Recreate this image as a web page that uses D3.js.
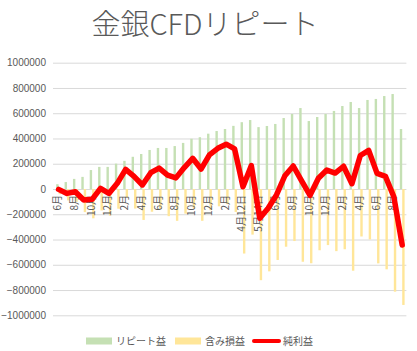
<!DOCTYPE html>
<html><head><meta charset="utf-8">
<script src="https://cdn.jsdelivr.net/npm/d3@7"></script>
<style>html,body{margin:0;padding:0;background:#fff;}svg{display:block;}</style>
</head><body>
<svg id="c" width="417" height="351"></svg>
<script>
const categories = ["6月","7月","8月","9月","10月","11月","12月","1月","2月","3月","4月","5月","6月","7月","8月","9月","10月","11月","12月","1月","2月","3月","4月12日","4月","5月14日","5月","6月","7月","8月","9月","10月","11月","12月","1月","2月","3月","4月","5月","6月","7月","8月","9月"];
const repeatProfit = [38000,55000,80000,96000,150000,175000,175000,201000,223000,255000,277000,309000,325000,325000,340000,365000,398000,410000,438000,459000,475000,500000,529000,546000,490000,499000,515000,562000,594000,641000,538000,570000,594000,618000,657000,689000,641000,705000,713000,736000,752000,475000];
const unrealized = [-41000,-90000,-102000,-183000,-232000,-170000,-210000,-156000,-68000,-155000,-245000,-180000,-160000,-215000,-252000,-195000,-155000,-252000,-168000,-137000,-120000,-182000,-511000,-361000,-722000,-652000,-562000,-457000,-412000,-576000,-588000,-485000,-444000,-492000,-477000,-647000,-376000,-399000,-589000,-636000,-813000,-918000];
const netProfit = [-3000,-35000,-22000,-87000,-82000,5000,-35000,45000,155000,100000,32000,129000,165000,110000,88000,170000,243000,158000,270000,322000,355000,318000,18000,185000,-232000,-153000,-47000,105000,182000,65000,-50000,85000,150000,126000,180000,42000,265000,306000,124000,100000,-61000,-443000];
const yTicks = [-1000000,-800000,-600000,-400000,-200000,0,200000,400000,600000,800000,1000000];
const seriesNames = ["リピート益","含み損益","純利益"];
const title = "金銀CFDリピート";

const svg = d3.select("#c");
const font = "'Noto Sans CJK JP','Noto Sans',sans-serif";
const txt = "#595959";

const idx = categories.map((d,i)=>i);
const x = d3.scaleBand().domain(idx).range([54.4, 406.4]).padding(0);
const y = d3.scaleLinear().domain([-1000000,1000000]).range([315.3, 62.7]);
const cx = i => x(i) + x.bandwidth()/2;

// title
svg.append("text").attr("x", 205).attr("y", 35).attr("text-anchor","middle")
  .attr("font-family", font).attr("font-size", 29).attr("font-weight", 300)
  .attr("fill", txt).text(title);

// gridlines + y axis labels
const yAxis = d3.axisLeft(y).tickValues(yTicks).tickSize(-(406.4-53)).tickPadding(7).tickFormat(d3.format("d"));
const gy = svg.append("g").attr("transform","translate(53,0)").call(yAxis);
gy.select(".domain").remove();
gy.selectAll(".tick line").attr("stroke","#d9d9d9").attr("stroke-width",1);
gy.selectAll(".tick text").attr("fill", txt).attr("font-size", 10)
  .attr("font-family","'Liberation Sans',Arial,sans-serif");

// bars
const bw = 2.4;
svg.append("g").selectAll("rect").data(repeatProfit).join("rect")
  .attr("x",(d,i)=>cx(i)-bw).attr("width",bw)
  .attr("y",d=>y(Math.max(0,d))).attr("height",d=>Math.abs(y(d)-y(0)))
  .attr("fill","#c5e0b4");
svg.append("g").selectAll("rect").data(unrealized).join("rect")
  .attr("x",(d,i)=>cx(i)).attr("width",bw)
  .attr("y",d=>y(Math.max(0,d))).attr("height",d=>Math.abs(y(d)-y(0)))
  .attr("fill","#ffe699");

// x axis labels (every other)
const xAxis = d3.axisBottom(x).tickValues(idx.filter(i=>i%2===0)).tickSize(0).tickFormat(i=>categories[i]);
const gx = svg.append("g").attr("transform",`translate(0,${y(0)})`).call(xAxis);
gx.select(".domain").remove();
gx.selectAll(".tick text")
  .attr("transform","translate(-1,0) rotate(-90)")
  .attr("text-anchor","end").attr("dy","0.35em").attr("x",-6).attr("y",0)
  .attr("fill", txt).attr("font-size", 10).attr("font-family", font);

// line
const line = d3.line().x((d,i)=>cx(i)).y(d=>y(d));
svg.append("path").datum(netProfit).attr("d", line)
  .attr("fill","none").attr("stroke","#ff0000").attr("stroke-width",5.5)
  .attr("stroke-linejoin","round").attr("stroke-linecap","round");

// legend
const lg = svg.append("g").attr("font-family", font).attr("font-size", 10).attr("fill", txt);
lg.append("rect").attr("x",86).attr("y",337.5).attr("width",26).attr("height",7).attr("fill","#c5e0b4");
lg.append("text").attr("x",116).attr("y",345).text(seriesNames[0]);
lg.append("rect").attr("x",175).attr("y",337.5).attr("width",26).attr("height",7).attr("fill","#ffe699");
lg.append("text").attr("x",205).attr("y",345).text(seriesNames[1]);
lg.append("line").attr("x1",254).attr("x2",279).attr("y1",341).attr("y2",341)
  .attr("stroke","#ff0000").attr("stroke-width",4).attr("stroke-linecap","round");
lg.append("text").attr("x",283).attr("y",345).text(seriesNames[2]);
</script>
</body></html>
